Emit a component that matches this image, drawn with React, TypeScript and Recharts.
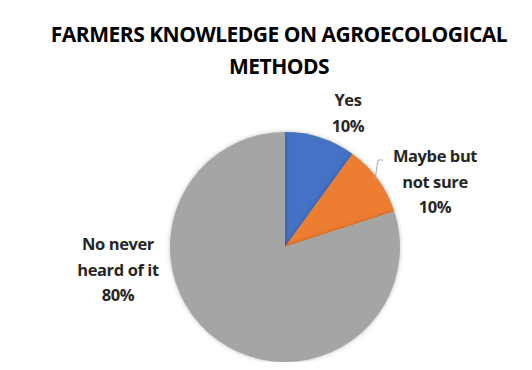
import React from "react";
import { Cell, Pie, PieChart } from "recharts";

const categories = ["Yes", "Maybe but\nnot sure", "No never\nheard of it"];
const shares = [10, 10, 80];
const colors = ["#4472C4", "#ED7D31", "#A5A5A5"];

const data = categories.map((name, i) => ({ name, value: shares[i] }));

// label block centres, relative to the pie centre
const labelOffsets = [
  { dx: 63, dy: -134 },
  { dx: 150, dy: -65 },
  { dx: -167, dy: 23 },
];

const LINE_H = 25.5;

const renderLabel = (props: any) => {
  const { cx, cy, index, name, value } = props;
  const lines = [...String(name).split("\n"), `${value}%`];
  const off = labelOffsets[index];
  const x = cx + off.dx;
  const y0 = cy + off.dy - ((lines.length - 1) * LINE_H) / 2;
  return (
    <g key={`lbl-${index}`}>
      {index === 1 && (
        <polyline
          points={`${x - 52},${cy - 87} ${x - 57},${cy - 87} ${x - 60},${cy - 68}`}
          fill="none"
          stroke="#A6A6A6"
          strokeWidth={1}
        />
      )}
      <text x={x} y={y0} textAnchor="middle" fontFamily="'Open Sans', 'Liberation Sans', sans-serif" fontWeight="bold" fontSize={16.5} fill="#262626" letterSpacing={-0.4}>
        {lines.map((l, i) => (
          <tspan key={i} x={x} y={y0 + i * LINE_H} dy="0.36em">
            {l}
          </tspan>
        ))}
      </text>
    </g>
  );
};

const App: React.FC = () => {
  return (
    <div style={{ position: "relative", width: 532, height: 370, margin: -8, background: "#fff", borderTop: "1px solid #E4E4E4", boxSizing: "border-box" }}>
      <style>{`.recharts-pie-sector path { filter: drop-shadow(0 0 2px rgba(0,0,0,0.25)); }`}</style>
      <div
        style={{
          position: "absolute",
          left: 0,
          top: 17,
          width: 558,
          textAlign: "center",
          fontFamily: "'Open Sans', 'Liberation Sans', sans-serif",
          fontWeight: "bold",
          fontSize: 21,
          lineHeight: "32px",
          color: "#000",
          letterSpacing: -0.5,
        }}
      >
        FARMERS KNOWLEDGE ON AGROECOLOGICAL
        <br />
        METHODS
      </div>
      <PieChart width={532} height={370} margin={{ top: 0, right: 0, bottom: 0, left: 0 }} style={{ position: "absolute", left: 0, top: -1 }}>
        <Pie
          data={data}
          dataKey="value"
          nameKey="name"
          cx={285}
          cy={247}
          outerRadius={115}
          startAngle={90}
          endAngle={-270}
          stroke="none"
          label={renderLabel}
          labelLine={false}
          isAnimationActive={false}
        >
          {data.map((d, i) => (
            <Cell key={d.name} fill={colors[i]} />
          ))}
        </Pie>
      </PieChart>
    </div>
  );
};

export default App;
